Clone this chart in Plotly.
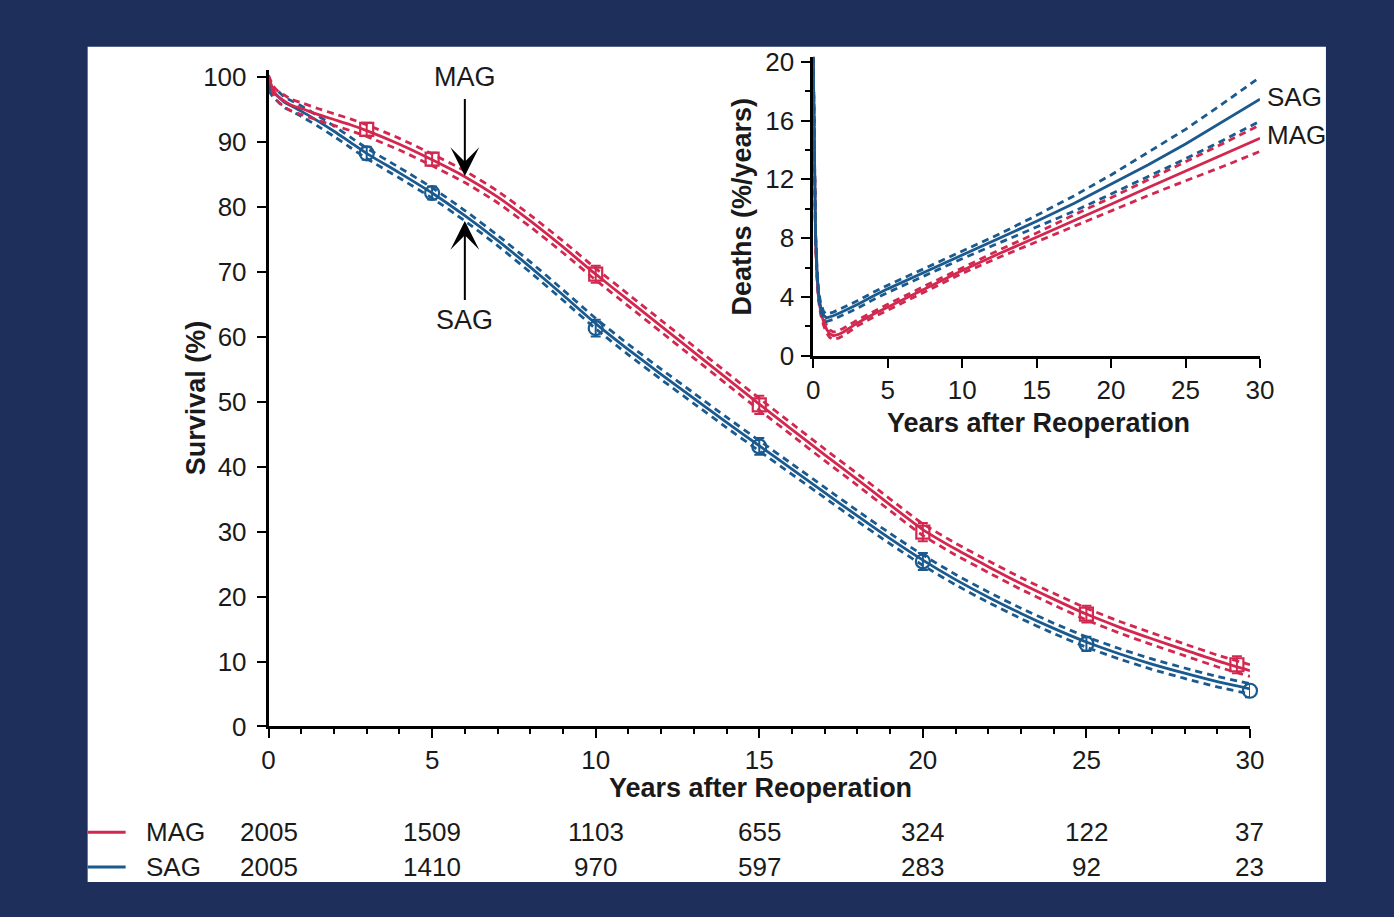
import plotly.graph_objects as go

W, H = 1394, 917
NAVY = "#1f2f5b"
RED = "#d2284f"
BLUE = "#1b5a8e"
INK = "#1a1a1a"
FONT = "Liberation Sans, Arial, sans-serif"

# ---------------- main survival data ----------------
t_surv = [0, 0.15, 0.3, 0.5, 0.7, 1, 1.5, 2, 2.5, 3, 4, 5, 6, 7, 8, 9, 10, 11, 12, 13, 14,
          15, 16, 17, 18, 19, 20, 21, 22, 23, 24, 25, 26, 27, 28, 29, 30]
mag_surv = [100, 97.9, 96.9, 96.2, 95.6, 95.1, 94.2, 93.4, 92.6, 91.7, 89.6, 87.2, 84.6, 81.5,
            77.8, 73.8, 69.6, 65.6, 61.6, 57.6, 53.6, 49.6, 45.7, 41.8, 38.0, 34.1, 30.3, 27.3,
            24.6, 22.0, 19.6, 17.3, 15.3, 13.5, 11.8, 10.1, 8.6]
mag_ci = [0.2, 0.6, 0.8, 0.9, 0.9, 0.9, 0.9, 0.9, 0.9, 0.9, 0.9, 0.9, 0.9, 0.9, 0.9, 0.9, 0.9,
          0.9, 0.9, 0.9, 0.9, 0.9, 0.9, 0.9, 0.9, 0.9, 0.9, 0.9, 0.9, 0.9, 0.9, 0.9, 0.9, 0.9,
          0.9, 0.9, 0.9]
sag_surv = [98.3, 97.5, 96.9, 96.0, 95.5, 94.7, 93.2, 91.6, 89.9, 88.2, 85.2, 82.1, 78.6, 74.8,
            70.7, 66.4, 62.0, 58.0, 54.2, 50.5, 46.8, 43.2, 39.6, 36.0, 32.4, 28.9, 25.6, 22.6,
            19.9, 17.4, 15.1, 13.0, 11.2, 9.6, 8.2, 6.9, 5.8]
sag_ci = [0.4, 0.7, 0.8, 0.8, 0.8, 0.8, 0.8, 0.8, 0.8, 0.8, 0.8, 0.8, 0.8, 0.8, 0.8, 0.8, 0.8,
          0.8, 0.8, 0.8, 0.8, 0.8, 0.8, 0.8, 0.8, 0.8, 0.8, 0.8, 0.8, 0.8, 0.8, 0.8, 0.8, 0.8,
          0.8, 0.8, 0.8]

# Kaplan-Meier estimates (markers with error bars)
mag_km_t = [3, 5, 10, 15, 20, 25, 29.6]
mag_km = [91.9, 87.3, 69.6, 49.5, 29.9, 17.3, 9.5]
mag_km_err = [1.0, 1.0, 1.3, 1.4, 1.4, 1.3, 1.3]
sag_km_t = [3, 5, 10, 15, 20, 25, 30]
sag_km = [88.2, 82.1, 61.3, 43.1, 25.4, 12.7, 5.5]
sag_km_err = [1.0, 1.0, 1.3, 1.3, 1.3, 1.1, 1.0]

# ---------------- inset hazard data ----------------
t_haz = [0, 0.05, 0.1, 0.15, 0.25, 0.35, 0.5, 0.7, 0.9, 1.1, 1.35, 1.7, 2, 3, 4, 5, 7.5, 10,
         12.5, 15, 17.5, 20, 22.5, 25, 27.5, 30]
mag_haz = [20.3, 16.0, 11.0, 8.0, 5.5, 4.0, 3.0, 2.3, 1.8, 1.5, 1.36, 1.45, 1.6, 2.25, 2.8, 3.3,
           4.55, 5.8, 6.95, 8.05, 9.2, 10.3, 11.45, 12.55, 13.65, 14.8]
mag_haz_ci = [0.1, 0.2, 0.2, 0.2, 0.2, 0.2, 0.2, 0.25, 0.25, 0.25, 0.25, 0.25, 0.25, 0.2, 0.2,
              0.2, 0.2, 0.2, 0.25, 0.3, 0.38, 0.45, 0.55, 0.65, 0.78, 0.9]
sag_haz = [20.3, 16.0, 11.5, 8.5, 5.8, 4.3, 3.3, 2.75, 2.58, 2.62, 2.72, 2.88, 3.02, 3.5, 4.05,
           4.55, 5.7, 6.85, 7.98, 9.15, 10.35, 11.65, 13.0, 14.4, 15.9, 17.45]
sag_haz_ci = [0.1, 0.2, 0.2, 0.2, 0.25, 0.25, 0.25, 0.25, 0.25, 0.25, 0.25, 0.25, 0.25, 0.25,
              0.25, 0.25, 0.25, 0.25, 0.3, 0.4, 0.52, 0.65, 0.82, 1.0, 1.25, 1.5]

# ---------------- numbers at risk ----------------
risk_t = [0, 5, 10, 15, 20, 25, 30]
risk_mag = [2005, 1509, 1103, 655, 324, 122, 37]
risk_sag = [2005, 1410, 970, 597, 283, 92, 23]

x_ticks_main = [0, 5, 10, 15, 20, 25, 30]
y_ticks_main = [0, 10, 20, 30, 40, 50, 60, 70, 80, 90, 100]
y_ticks_inset = [0, 4, 8, 12, 16, 20]


# layout helpers: target pixel position -> paper fraction
def PX(p):
    return ((p - 6.3) / 0.9855) / W


def PY(p):
    return 1 - ((p - 8.1) / 0.976) / H


fig = go.Figure()

LW = 2.8
DASH = "7px,5px"


def add_band(t, est, half, color, xa, ya, shape):
    up = [e + h for e, h in zip(est, half)]
    lo = [e - h for e, h in zip(est, half)]
    line_kw = dict(shape=shape) if shape == "linear" else dict(shape=shape, smoothing=0.6)
    for vals in (up, lo):
        fig.add_trace(go.Scatter(x=t, y=vals, mode="lines", xaxis=xa, yaxis=ya,
                                 line=dict(color=color, width=LW, dash=DASH, **line_kw),
                                 hoverinfo="skip", showlegend=False, cliponaxis=False))
    fig.add_trace(go.Scatter(x=t, y=est, mode="lines", xaxis=xa, yaxis=ya,
                             line=dict(color=color, width=LW, **line_kw),
                             showlegend=False, cliponaxis=False))


add_band(t_surv, sag_surv, sag_ci, BLUE, "x", "y", "spline")
add_band(t_surv, mag_surv, mag_ci, RED, "x", "y", "spline")

fig.add_trace(go.Scatter(x=sag_km_t, y=sag_km, mode="markers", xaxis="x", yaxis="y",
                         marker=dict(symbol="circle-open", size=14, color=BLUE, line=dict(width=2.2, color=BLUE)),
                         error_y=dict(type="data", array=sag_km_err, color=BLUE, thickness=2, width=5),
                         showlegend=False, cliponaxis=False))
fig.add_trace(go.Scatter(x=mag_km_t, y=mag_km, mode="markers", xaxis="x", yaxis="y",
                         marker=dict(symbol="square-open", size=13, color=RED, line=dict(width=2.2, color=RED)),
                         error_y=dict(type="data", array=mag_km_err, color=RED, thickness=2, width=5),
                         showlegend=False, cliponaxis=False))

add_band(t_haz, mag_haz, mag_haz_ci, RED, "x2", "y2", "linear")
add_band(t_haz, sag_haz, sag_haz_ci, BLUE, "x2", "y2", "linear")

axis_common = dict(showline=True, linecolor="black", linewidth=2.6, ticks="outside",
                   tickcolor="black", tickwidth=2.3, ticklen=9, showgrid=False, zeroline=False,
                   tickfont=dict(family=FONT, size=26, color=INK), fixedrange=True)

fig.update_layout(
    width=W, height=H,
    margin=dict(l=0, r=0, t=0, b=0),
    paper_bgcolor=NAVY,
    plot_bgcolor="rgba(0,0,0,0)",
    showlegend=False,
    xaxis=dict(domain=[PX(268), PX(1250)], range=[0, 30], tickvals=x_ticks_main,
               minor=dict(dtick=1, ticks="outside", ticklen=5, tickcolor="black", tickwidth=2),
               anchor="y", **axis_common),
    yaxis=dict(domain=[PY(727), PY(68)], range=[0, 101.07], tickvals=y_ticks_main,
               anchor="x", ticklabelstandoff=5, **axis_common),
    xaxis2=dict(domain=[PX(813), PX(1260)], range=[0, 30], tickvals=x_ticks_main,
                anchor="y2", **axis_common),
    yaxis2=dict(domain=[PY(355), PY(55)], range=[0, 20.34], tickvals=y_ticks_inset,
                minor=dict(dtick=2, ticks="outside", ticklen=5, tickcolor="black", tickwidth=2),
                anchor="x2", ticklabelstandoff=2, **axis_common),
)

# white panel
fig.add_shape(type="rect", xref="paper", yref="paper", x0=PX(87), x1=PX(1326),
              y0=PY(883), y1=PY(45), fillcolor="white", line=dict(width=0), layer="below")

ann = []
bold = dict(family=FONT, size=27, color=INK)
reg = dict(family=FONT, size=26, color=INK)
# axis titles
ann.append(dict(text="<b>Years after Reoperation</b>", xref="paper", yref="paper", x=PX(760), y=PY(789),
                showarrow=False, font=bold, xanchor="center", yanchor="middle"))
ann.append(dict(text="<b>Survival (%)</b>", xref="paper", yref="paper", x=PX(195), y=PY(397),
                showarrow=False, font=bold, textangle=-90, xanchor="center", yanchor="middle"))
ann.append(dict(text="<b>Years after Reoperation</b>", xref="paper", yref="paper", x=PX(1038), y=PY(422),
                showarrow=False, font=bold, xanchor="center", yanchor="middle"))
ann.append(dict(text="<b>Deaths (%/years)</b>", xref="paper", yref="paper", x=PX(742), y=PY(205),
                showarrow=False, font=bold, textangle=-90, xanchor="center", yanchor="middle"))
# curve labels in main plot
ann.append(dict(text="MAG", xref="x", yref="y", x=6, y=100, showarrow=False, font=dict(family=FONT, size=27, color=INK)))
ann.append(dict(text="SAG", xref="x", yref="y", x=6, y=62.6, showarrow=False, font=dict(family=FONT, size=27, color=INK)))
ann.append(dict(text="", xref="x", yref="y", x=6, y=84.7, axref="x", ayref="y", ax=6, ay=96.8,
                showarrow=True, arrowhead=3, arrowsize=2.4, arrowwidth=2, arrowcolor="black"))
ann.append(dict(text="", xref="x", yref="y", x=6, y=77.8, axref="x", ayref="y", ax=6, ay=65.4,
                showarrow=True, arrowhead=3, arrowsize=2.4, arrowwidth=2, arrowcolor="black"))
# inset labels (right of the inset axes)
ann.append(dict(text="SAG", xref="paper", yref="paper", x=PX(1265), y=PY(95), showarrow=False,
                xanchor="left", yanchor="middle", font=reg))
ann.append(dict(text="MAG", xref="paper", yref="paper", x=PX(1265), y=PY(134), showarrow=False,
                xanchor="left", yanchor="middle", font=reg))
# numbers at risk
for name, vals, ypx, col in (("MAG", risk_mag, 833, RED), ("SAG", risk_sag, 868, BLUE)):
    ann.append(dict(text=name, xref="paper", yref="paper", x=PX(143), y=PY(ypx), showarrow=False,
                    xanchor="left", yanchor="middle", font=reg))
    for tt, v in zip(risk_t, vals):
        ann.append(dict(text=str(v), xref="x", yref="paper", x=tt, y=PY(ypx), showarrow=False,
                        xanchor="center", yanchor="middle", font=reg))
    fig.add_shape(type="line", xref="paper", yref="paper", x0=PX(87), x1=PX(125),
                  y0=PY(ypx), y1=PY(ypx), line=dict(color=col, width=3))

fig.update_layout(annotations=ann)
fig.write_html("out.html")
